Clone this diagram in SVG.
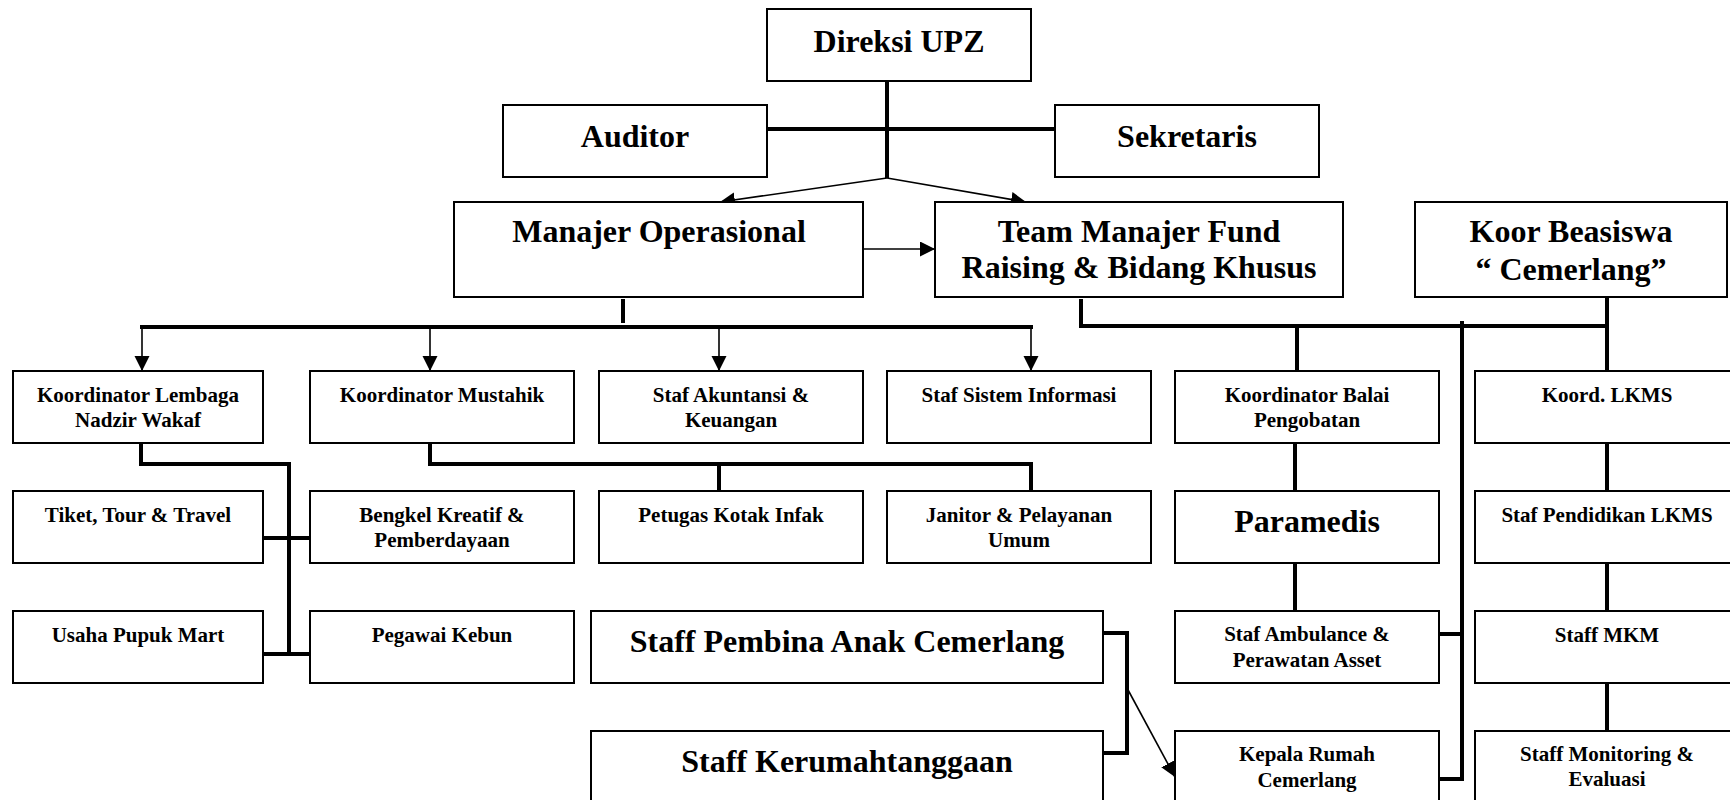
<svg xmlns="http://www.w3.org/2000/svg" width="1730" height="800" viewBox="0 0 1730 800">
<defs>
<marker id="ah" markerUnits="userSpaceOnUse" markerWidth="16" markerHeight="16" refX="15" refY="7.5" orient="auto">
<path d="M0,0 L15,7.5 L0,15 z" fill="#000"/>
</marker>
<style>
rect{fill:#fff;stroke:#000;stroke-width:2}
text{font-family:"Liberation Serif","Times New Roman",serif;font-weight:bold;fill:#000;text-anchor:middle}
.b{font-size:32px}
.s{font-size:21px}
.thick{fill:none;stroke:#000;stroke-width:4}
.thin{fill:none;stroke:#000;stroke-width:1.6;marker-end:url(#ah)}
</style>
</defs>
<rect x="0" y="0" width="1730" height="800" style="fill:#fff;stroke:none"/>
<g id="connectors">
<path class="thick" d="M887,81 V178"/>
<path class="thick" d="M767,129 H1055"/>
<path class="thin" d="M887,178 L720,202"/>
<path class="thin" d="M887,178 L1026,202"/>
<path class="thin" d="M863,249 H935"/>
<path class="thick" d="M623,299 V323"/>
<path class="thick" d="M140,327 H1033"/>
<path class="thin" d="M142,325 V371"/>
<path class="thin" d="M430,325 V371"/>
<path class="thin" d="M719,325 V371"/>
<path class="thin" d="M1031,325 V371"/>
<path class="thick" d="M1081,299 V326 H1609"/>
<path class="thick" d="M1607,297 V371"/>
<path class="thick" d="M1297,326 V371"/>
<path class="thick" d="M1462,321 V781"/>
<path class="thick" d="M1439,634 H1462"/>
<path class="thick" d="M1439,779 H1464"/>
<path class="thick" d="M1295,443 V491"/>
<path class="thick" d="M1295,563 V611"/>
<path class="thick" d="M1607,443 V491"/>
<path class="thick" d="M1607,563 V611"/>
<path class="thick" d="M1607,683 V731"/>
<path class="thick" d="M141,443 V464 H289 V656"/>
<path class="thick" d="M263,538 H310"/>
<path class="thick" d="M263,654 H310"/>
<path class="thick" d="M430,443 V464 H1033"/>
<path class="thick" d="M719,464 V491"/>
<path class="thick" d="M1031,464 V491"/>
<path class="thick" d="M1103,633 H1127 V753 H1103"/>
<path class="thin" d="M1127,688 L1175,777"/>
</g>
<g id="direksi"><rect x="767" y="9" width="264" height="72"/><text class="b" x="899" y="52">Direksi UPZ</text></g>
<g id="auditor"><rect x="503" y="105" width="264" height="72"/><text class="b" x="635" y="147">Auditor</text></g>
<g id="sekretaris"><rect x="1055" y="105" width="264" height="72"/><text class="b" x="1187" y="147">Sekretaris</text></g>
<g id="manajer-operasional"><rect x="454" y="202" width="409" height="95"/><text class="b" x="659" y="242">Manajer Operasional</text></g>
<g id="team-manajer"><rect x="935" y="202" width="408" height="95"/><text class="b" x="1139" y="242">Team Manajer Fund</text><text class="b" x="1139" y="278">Raising &amp; Bidang Khusus</text></g>
<g id="koor-beasiswa"><rect x="1415" y="202" width="312" height="95"/><text class="b" x="1571" y="242">Koor Beasiswa</text><text class="b" x="1571" y="280">“ Cemerlang”</text></g>
<g id="koordinator-lembaga"><rect x="13" y="371" width="250" height="72"/><text class="s" x="138" y="402">Koordinator Lembaga</text><text class="s" x="138" y="427">Nadzir Wakaf</text></g>
<g id="koordinator-mustahik"><rect x="310" y="371" width="264" height="72"/><text class="s" x="442" y="402">Koordinator Mustahik</text></g>
<g id="staf-akuntansi"><rect x="599" y="371" width="264" height="72"/><text class="s" x="731" y="402">Staf Akuntansi &amp;</text><text class="s" x="731" y="427">Keuangan</text></g>
<g id="staf-sistem-informasi"><rect x="887" y="371" width="264" height="72"/><text class="s" x="1019" y="402">Staf Sistem Informasi</text></g>
<g id="koordinator-balai"><rect x="1175" y="371" width="264" height="72"/><text class="s" x="1307" y="402">Koordinator Balai</text><text class="s" x="1307" y="427">Pengobatan</text></g>
<g id="koord-lkms"><rect x="1475" y="371" width="265" height="72"/><text class="s" x="1607" y="402">Koord. LKMS</text></g>
<g id="tiket"><rect x="13" y="491" width="250" height="72"/><text class="s" x="138" y="522">Tiket, Tour &amp; Travel</text></g>
<g id="bengkel"><rect x="310" y="491" width="264" height="72"/><text class="s" x="442" y="522">Bengkel Kreatif &amp;</text><text class="s" x="442" y="547">Pemberdayaan</text></g>
<g id="petugas"><rect x="599" y="491" width="264" height="72"/><text class="s" x="731" y="522">Petugas Kotak Infak</text></g>
<g id="janitor"><rect x="887" y="491" width="264" height="72"/><text class="s" x="1019" y="522">Janitor &amp; Pelayanan</text><text class="s" x="1019" y="547">Umum</text></g>
<g id="paramedis"><rect x="1175" y="491" width="264" height="72"/><text class="b" x="1307" y="532">Paramedis</text></g>
<g id="staf-pendidikan"><rect x="1475" y="491" width="265" height="72"/><text class="s" x="1607" y="522">Staf Pendidikan LKMS</text></g>
<g id="usaha-pupuk"><rect x="13" y="611" width="250" height="72"/><text class="s" x="138" y="642">Usaha Pupuk Mart</text></g>
<g id="pegawai-kebun"><rect x="310" y="611" width="264" height="72"/><text class="s" x="442" y="642">Pegawai Kebun</text></g>
<g id="staff-pembina"><rect x="591" y="611" width="512" height="72"/><text class="b" x="847" y="652">Staff Pembina Anak Cemerlang</text></g>
<g id="staf-ambulance"><rect x="1175" y="611" width="264" height="72"/><text class="s" x="1307" y="641">Staf Ambulance &amp;</text><text class="s" x="1307" y="667">Perawatan Asset</text></g>
<g id="staff-mkm"><rect x="1475" y="611" width="265" height="72"/><text class="s" x="1607" y="642">Staff MKM</text></g>
<g id="staff-kerumahtanggaan"><rect x="591" y="731" width="512" height="80"/><text class="b" x="847" y="772">Staff Kerumahtanggaan</text></g>
<g id="kepala-rumah"><rect x="1175" y="731" width="264" height="80"/><text class="s" x="1307" y="761">Kepala Rumah</text><text class="s" x="1307" y="787">Cemerlang</text></g>
<g id="staff-monitoring"><rect x="1475" y="731" width="265" height="80"/><text class="s" x="1607" y="761">Staff Monitoring &amp;</text><text class="s" x="1607" y="786">Evaluasi</text></g>
</svg>
